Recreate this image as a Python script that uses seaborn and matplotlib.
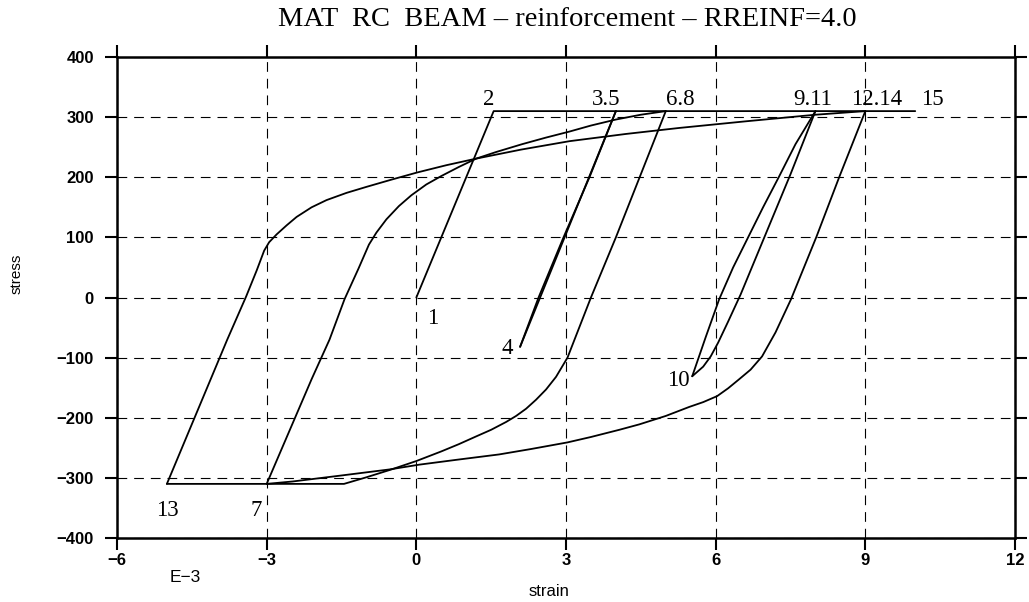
import matplotlib
matplotlib.use("Agg")
import matplotlib.pyplot as plt
import seaborn as sns
import pandas as pd

# Strain in units of 1e-3, stress in MPa, one list pair per loading branch
b01_strain = [0.0, 1.55, 4.0]
b01_stress = [0, 310, 310]

b03_strain = [4.0, 2.08]
b03_stress = [310, -82]

b04_strain = [2.08, 2.45, 2.95, 3.47, 4.0, 5.0]
b04_stress = [-82, 0, 100, 200, 310, 310]

b06_strain = [5.0, 4.5, 4.0, 3.5, 3.03, 2.8, 2.6, 2.4, 2.2, 2.0, 1.8, 1.5, 1.2, 0.85, 0.5, 0.0,
              -0.5, -1.0, -1.45, -3.0]
b06_stress = [310, 205, 100, 0, -100, -132, -153, -170, -185, -197, -207, -220, -231, -244,
              -256, -272, -286, -299, -310, -310]

b07_strain = [-3.0, -2.1, -1.74, -1.44, -1.16, -0.95, -0.8, -0.6, -0.35, -0.1, 0.2, 0.5, 0.85,
              1.2, 1.6, 2.12, 2.6, 3.07, 3.5, 4.0, 4.5, 5.0, 8.0]
b07_stress = [-310, -136, -70, -3, 48, 88, 108, 130, 152, 170, 188, 202, 217,
              231, 242, 255, 266, 276, 286, 296, 304, 310, 310]

b09_strain = [8.0, 7.5, 7.0, 6.5, 6.25, 6.05, 5.9, 5.75, 5.53]
b09_stress = [310, 205, 105, 5, -40, -75, -98, -115, -131]

b10_strain = [5.53, 5.8, 6.07, 6.35, 6.65, 6.95, 7.27, 7.6, 8.0, 9.0]
b10_stress = [-131, -66, -3, 50, 100, 150, 201, 255, 310, 310]

b12_strain = [9.0, 8.48, 8.02, 7.51, 7.2, 6.93, 6.7, 6.47, 6.25, 6.03, 5.75, 5.47, 5.0, 4.47,
              4.07, 3.5, 3.03, 2.3, 1.66, 0.8, 0.06, -0.54, -1.5, -2.48, -3.0, -5.0]
b12_stress = [310, 201, 101, -3, -58, -98, -120, -136, -151, -164, -174, -182, -197, -211,
              -220, -232, -241, -252, -261, -270, -278, -286, -296, -306, -310, -310]

b13_strain = [-5.0, -3.79, -3.41, -3.2, -3.05, -2.95, -2.8, -2.6, -2.4, -2.1, -1.8, -1.4, -1.0,
              -0.5, 0.02, 0.6, 1.2, 2.1, 3.07, 4.2, 5.27, 6.6, 8.0, 9.0, 10.0]
b13_stress = [-310, -70, 2, 45, 78, 92, 105, 120, 134, 150, 162, 174, 184,
              196, 208, 220, 231, 246, 260, 272, 282, 293, 304, 310, 310]

branches = [
    (b01_strain, b01_stress), (b03_strain, b03_stress), (b04_strain, b04_stress),
    (b06_strain, b06_stress), (b07_strain, b07_stress), (b09_strain, b09_stress),
    (b10_strain, b10_stress), (b12_strain, b12_stress), (b13_strain, b13_stress),
]

# Numbered load-history nodes
node_labels = ["1", "2", "3.5", "4", "6.8", "7", "9.11", "10", "12.14", "13", "15"]
node_strain = [0.0, 1.55, 4.0, 2.08, 5.0, -3.0, 8.0, 5.53, 9.0, -5.0, 10.0]
node_stress = [0, 310, 310, -82, 310, -310, 310, -131, 310, -310, 310]
# label offsets from the node, in pixels
node_dx = [16, -5, -10, -13, 15, -10, -3, -14, 11, 0, 17]
node_dy = [-21, 12, 12, -2, 12, -27, 12, -4, 12, -27, 12]

x_ticks = [-6, -3, 0, 3, 6, 9, 12]
y_ticks = [-400, -300, -200, -100, 0, 100, 200, 300, 400]

rows = []
for i, (xs, ys) in enumerate(branches):
    for k, (x, y) in enumerate(zip(xs, ys)):
        rows.append({"branch": i, "order": k, "strain": x, "stress": y})
df = pd.DataFrame(rows)

sns.set_theme(style="white")
plt.rcParams["font.family"] = ["Liberation Sans", "DejaVu Sans"]
plt.rcParams["lines.scale_dashes"] = False
plt.rcParams["text.color"] = "black"
plt.rcParams["xtick.color"] = "black"
plt.rcParams["ytick.color"] = "black"

W, H = 1029, 602
fig = plt.figure(figsize=(W / 100, H / 100), dpi=100)
ax = fig.add_axes([117 / W, 1 - 538 / H, (1015 - 117) / W, (538 - 57) / H])

sns.lineplot(data=df, x="strain", y="stress", units="branch", estimator=None, sort=False,
             color="black", linewidth=1.3, ax=ax, legend=False)

ax.set_xlim(-6, 12)
ax.set_ylim(-400, 400)
ax.set_xticks(x_ticks)
ax.set_yticks(y_ticks)
ax.set_xticklabels([str(v).replace("-", "\u2212") for v in x_ticks], fontsize=12,
                   fontweight="bold")
ax.set_yticklabels([str(v).replace("-", "\u2212") for v in y_ticks], fontsize=12,
                   fontweight="bold")
ax.grid(True, color="black", linestyle=(0, (7, 5)), linewidth=0.8)
ax.tick_params(direction="out", length=8.6, width=1.5, color="black",
               top=True, right=True, bottom=True, left=True)
ax.tick_params(axis="y", pad=8)
ax.tick_params(axis="x", pad=2)
for s in ax.spines.values():
    s.set_visible(True)
    s.set_color("black")
    s.set_linewidth(1.8)
ax.set_xlabel("")
ax.set_ylabel("")

for lab, x, y, dx, dy in zip(node_labels, node_strain, node_stress, node_dx, node_dy):
    ax.annotate(lab, xy=(x, y), xytext=(dx * 0.72, dy * 0.72), textcoords="offset points",
                ha="center", va="center", fontsize=16.5, family="Liberation Serif")

fig.text(567 / W, 1 - 20 / H, "MAT  RC  BEAM \u2013 reinforcement \u2013 RREINF=4.0",
         ha="center", va="center", fontsize=20.5, family="Liberation Serif")
fig.text(549 / W, 1 - 591 / H, "strain", ha="center", va="center", fontsize=12)
fig.text(185 / W, 1 - 578 / H, "E\u22123", ha="center", va="center", fontsize=12.5)
fig.text(17 / W, 1 - 274 / H, "stress", ha="center", va="center", fontsize=11, rotation=90)

fig.savefig("out.png", dpi=100, facecolor="white")
